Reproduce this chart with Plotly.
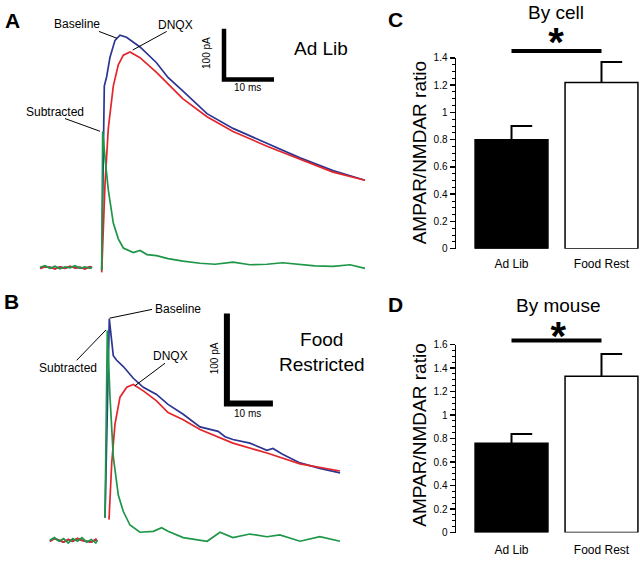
import plotly.graph_objects as go

W, H = 640, 563
FONT = "Liberation Sans, Arial, Helvetica, sans-serif"
BLUE = "#2b3592"
RED = "#e3262b"
GREEN = "#1e9648"

# ---------------- Panel A (Ad Lib) traces: time in ms, current in pA ----------------
A_BASE_T = [-12.0, -11.0, -10.0, -9.0, -8.0, -7.0, -6.0, -5.0, -4.0, -3.0, -2.0, -1.6]
A_BASE_I_GRN = [0, 3, -2, 2, -3, 1, -1, 3, -2, 1, -2, 0]
A_BASE_I_RED = [-2, 1, 0, -3, 1, -2, 2, -1, 0, -3, 1, -1]
A_BLUE_T = [0.34, 0.66, 0.86, 1.34, 2.0, 3.0, 4.0, 5.3, 8.0, 11.3, 13.6, 16.6, 21.4, 26.6, 33.4, 40.0, 46.6, 53.0]
A_BLUE_I = [-6, 267, 356, 375, 413, 446, 456, 452, 433, 402, 373, 346, 302, 273, 244, 215, 190, 171]
A_RED_T = [0.34, 1.0, 1.66, 2.66, 3.66, 4.66, 6.0, 8.0, 11.3, 13.6, 16.6, 21.4, 26.6, 33.4, 40.0, 46.6, 53.0]
A_RED_I = [-10, 163, 273, 356, 398, 417, 423, 412, 383, 360, 331, 296, 267, 238, 212, 187, 171]
A_GRN_T = [0.34, 0.54, 1.0, 1.66, 2.66, 3.66, 4.66, 6.66, 8.0, 9.4, 11.3, 13.6, 16.6, 20.0, 23.0,
           26.6, 30.0, 33.4, 36.5, 40.0, 43.0, 46.6, 50.0, 53.0]
A_GRN_I = [-6, 267, 215, 152, 87, 56, 38, 29, 33, 25, 23, 17, 12, 8, 6, 10, 5, 6, 9, 6, 3, 2, 5, -2]

# ---------------- Panel B (Food Restricted) traces ----------------
B_BASE_T = [-12.0, -11.0, -10.0, -9.0, -8.0, -7.0, -6.0, -5.0, -4.0, -3.0, -2.0, -1.7]
B_BASE_I_GRN = [0, 3, -1, 2, -3, 2, -1, 3, -2, 1, -3, 0]
B_BASE_I_RED = [-1, 2, 0, -2, 1, -1, 2, 0, -1, -2, 1, -1]
B_BLUE_T = [0.0, 0.93, 1.8, 2.54, 3.98, 6.15, 8.33, 11.2, 13.7, 17.0, 20.65, 22.8, 24.6, 26.1,
            27.8, 31.5, 35.2, 36.5, 38.5, 42.4, 46.7, 51.1]
B_BLUE_I = [25, 246, 205, 200, 193, 180, 170, 162, 151, 140, 126, 123, 121, 115,
            112, 108, 100, 102, 96, 86, 80, 75]
B_RED_T = [0.87, 1.46, 2.17, 3.26, 4.72, 6.15, 8.33, 11.2, 13.7, 17.0, 20.65, 27.8, 35.2, 42.4, 51.1]
B_RED_I = [23, 86, 129, 159, 170, 173, 166, 155, 142, 134, 123, 108, 97, 85, 77]
B_GRN_T = [0.0, 0.5, 1.09, 1.8, 2.9, 3.98, 5.43, 7.6, 10.5, 12.3, 13.7, 17.0, 22.2, 25.0,
           27.8, 31.5, 35.2, 38.0, 42.4, 46.7, 51.1]
B_GRN_I = [25, 233, 159, 93, 50, 32, 17, 9, 10, 14, 10, 3, -1, 9, 3, 7, 4, 6, -1, 4, -1]

# ---------------- Panels C and D (bar charts) ----------------
GROUPS = ["Ad Lib", "Food Rest"]
CELL_MEAN = [0.80, 1.22]
CELL_SEM = [0.10, 0.15]
MOUSE_MEAN = [0.76, 1.33]
MOUSE_SEM = [0.08, 0.19]
BAR_COLORS = ["black", "white"]


def P(x, y):
    """pixel position -> paper coordinates (for layout placement only)"""
    return x / W, 1 - y / H


fig = go.Figure()


def add_sweeps(xa, ya, base_t, base_blue, base_red, base_grn, blue, red, grn):
    for (bi, (st, si), col) in [
        (base_blue, blue, BLUE),
        (base_red, red, RED),
        (base_grn, grn, GREEN),
    ]:
        fig.add_trace(go.Scatter(
            x=list(base_t) + [None] + list(st),
            y=list(bi) + [None] + list(si),
            mode="lines", line=dict(color=col, width=1.7),
            xaxis=xa, yaxis=ya, showlegend=False, hoverinfo="skip",
        ))


add_sweeps("x", "y", A_BASE_T, A_BASE_I_RED, A_BASE_I_RED, A_BASE_I_GRN,
           (A_BLUE_T, A_BLUE_I), (A_RED_T, A_RED_I), (A_GRN_T, A_GRN_I))
add_sweeps("x2", "y2", B_BASE_T, B_BASE_I_RED, B_BASE_I_RED, B_BASE_I_GRN,
           (B_BLUE_T, B_BLUE_I), (B_RED_T, B_RED_I), (B_GRN_T, B_GRN_I))

CAP = 0.23
for xa, ya, means, sems in [("x3", "y3", CELL_MEAN, CELL_SEM), ("x4", "y4", MOUSE_MEAN, MOUSE_SEM)]:
    xs = list(range(len(GROUPS)))
    ex, ey = [], []
    for i, (m, s) in enumerate(zip(means, sems)):
        ex += [xs[i], xs[i], xs[i] + CAP, None]
        ey += [m, m + s, m + s, None]
    fig.add_trace(go.Scatter(x=ex, y=ey, mode="lines", line=dict(color="black", width=2),
                             xaxis=xa, yaxis=ya, showlegend=False, hoverinfo="skip"))
    fig.add_trace(go.Bar(x=xs, y=means, width=0.81,
                         marker=dict(color=BAR_COLORS, line=dict(color="black", width=1.5)),
                         xaxis=xa, yaxis=ya, showlegend=False, hoverinfo="skip"))

shapes = []
annotations = []


def text(x, y, s, size, bold=False, angle=0):
    annotations.append(dict(
        x=x / W, y=1 - y / H, xref="paper", yref="paper",
        text=("<b>%s</b>" % s) if bold else s,
        showarrow=False, textangle=angle, xanchor="center", yanchor="middle",
        font=dict(family=FONT, size=size, color="black")))


def leader(x0, y0, x1, y1):
    a, b = P(x0, y0)
    c, d = P(x1, y1)
    shapes.append(dict(type="line", xref="paper", yref="paper", x0=a, y0=b, x1=c, y1=d,
                       line=dict(color="black", width=1)))


# panel letters
text(12.5, 15, "A", 21, bold=True)
text(11.5, 302, "B", 21, bold=True)
text(395.5, 14, "C", 21, bold=True)
text(395.5, 305, "D", 21, bold=True)

# Panel A labels
text(77, 18, "Baseline", 12)
leader(99, 26, 117, 33)
text(175, 19, "DNQX", 12)
leader(166.7, 26, 132.7, 45)
text(55, 108, "Subtracted", 12)
leader(65, 115, 100, 128)
text(207, 48, "100 pA", 10, angle=-90)
text(247.5, 83, "10 ms", 10)
text(320.5, 43.5, "Ad Lib", 19)
# scale bar A: 10 ms x 100 pA
shapes.append(dict(type="path", xref="x", yref="y",
                   path="M 24.8,469 L 24.8,369 L 34.8,369",
                   line=dict(color="black", width=4.5)))

# Panel B labels
text(178, 310, "Baseline", 12)
leader(109.5, 319, 152, 310)
text(68, 370, "Subtracted", 12)
leader(76.7, 362, 106, 331)
text(170, 358, "DNQX", 12)
leader(165, 365, 135, 388)
text(214, 360, "100 pA", 10, angle=-90)
text(247.5, 416.5, "10 ms", 10)
text(322, 354, "Food<br>Restricted", 19)
shapes.append(dict(type="path", xref="x2", yref="y2",
                   path="M 26.5,252 L 26.5,152 L 36.5,152",
                   line=dict(color="black", width=6)))

# Panels C / D: title with significance star beneath it (one text block), plus sig bar
# (x centre px, text top px, line-spacing base size, title, sig bar y px)
for xa, xc, ytop, base, title, ysig in [("x3", 555.5, -4.8, 28.5, "By cell", 46),
                                        ("x4", 557.5, 294.5, 29.5, "By mouse", 341.7)]:
    shapes.append(dict(type="line", xref=xa, yref="paper", x0=0, x1=1,
                       y0=1 - ysig / H, y1=1 - ysig / H, line=dict(color="black", width=4)))
    annotations.append(dict(
        x=xc / W, xref="paper", y=1 - ytop / H, yref="paper",
        text=("<span style='font-size:19px'>%s</span><br>"
              "<b><span style='font-size:40px'>*</span></b>") % title,
        showarrow=False, xanchor="center", yanchor="top", align="center", borderpad=0,
        font=dict(family=FONT, size=base, color="black")))

text(419.5, 150, "AMPAR/NMDAR ratio", 19, angle=-90)
text(420, 439, "AMPAR/NMDAR ratio", 19, angle=-90)

trace_ax = dict(visible=False, showgrid=False, zeroline=False, fixedrange=True)
a_dom_y = [1 - 280 / H, 1]
b_dom_y = [0, 1 - 280 / H]
xdom_tr = [0, 370 / W]


def bar_y(dom, rng):
    return dict(domain=dom, range=rng, showline=True, linewidth=1.5, linecolor="black",
                ticks="outside", ticklen=5, tickwidth=1.5, tickcolor="black", dtick=0.2,
                minor=dict(ticks="outside", dtick=0.05, ticklen=3, tickwidth=1, tickcolor="black"),
                tickfont=dict(family=FONT, size=10, color="black"),
                showgrid=False, zeroline=False)


def bar_x(anchor, standoff):
    return dict(domain=[456 / W, 1], range=[-0.617, 1.428], anchor=anchor,
                tickvals=list(range(len(GROUPS))), ticktext=GROUPS, ticks="",
                ticklabelstandoff=standoff,
                showline=False, showgrid=False, zeroline=False,
                tickfont=dict(family=FONT, size=12, color="black"))


fig.update_layout(
    width=W, height=H, autosize=False,
    margin=dict(l=0, r=0, t=0, b=0, pad=0),
    paper_bgcolor="white", plot_bgcolor="rgba(0,0,0,0)",
    showlegend=False, bargap=0,
    xaxis=dict(domain=xdom_tr, range=[-20, 54], anchor="y", **trace_ax),
    yaxis=dict(domain=a_dom_y, range=[-25, 513.5], anchor="x", **trace_ax),
    xaxis2=dict(domain=xdom_tr, range=[-22.83, 57.61], anchor="y2", **trace_ax),
    yaxis2=dict(domain=b_dom_y, range=[-18.5, 289.1], anchor="x2", **trace_ax),
    xaxis3=bar_x("y3", 6),
    yaxis3=dict(anchor="x3", **bar_y([1 - 248 / H, 1 - 53 / H], [0, 1.4])),
    xaxis4=bar_x("y4", 8),
    yaxis4=dict(anchor="x4", **bar_y([1 - 538 / H, 1 - 346 / H], [0, 1.6])),
    shapes=shapes,
    annotations=annotations,
)

fig.write_html("out.html", config={"displayModeBar": False, "staticPlot": True},
               post_script="document.body.style.margin='0px';document.body.style.overflow='hidden';")
